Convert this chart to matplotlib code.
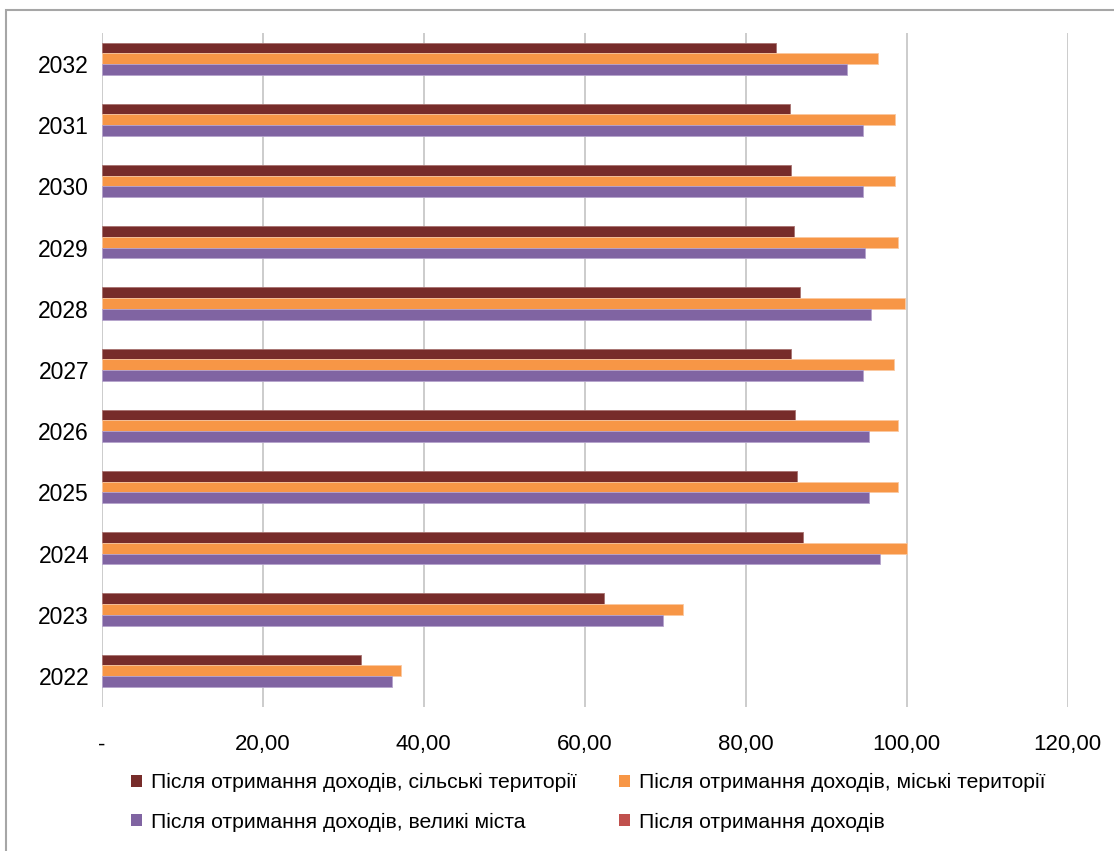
import matplotlib
matplotlib.use("Agg")
import matplotlib.pyplot as plt
from matplotlib.patches import Patch, Rectangle
import numpy as np

plt.rcParams['font.family'] = ['Liberation Sans', 'DejaVu Sans']

years = ["2022", "2023", "2024", "2025", "2026", "2027", "2028", "2029", "2030", "2031", "2032"]
rural = [32.2, 62.4, 87.1, 86.35, 86.2, 85.7, 86.8, 86.0, 85.65, 85.5, 83.8]
urban = [37.2, 72.2, 100.1, 98.9, 99.0, 98.4, 99.8, 98.9, 98.6, 98.6, 96.5]
cities = [36.1, 69.8, 96.7, 95.4, 95.3, 94.55, 95.6, 94.9, 94.55, 94.6, 92.6]
total = [0, 0, 0, 0, 0, 0, 0, 0, 0, 0, 0]

labels = ["Після отримання доходів, сільські території",
          "Після отримання доходів, міські території",
          "Після отримання доходів, великі міста",
          "Після отримання доходів"]
colors = ["#772C2A", "#F79646", "#8064A2", "#C0504D"]
edges = ["#A87270", "#FBC8A0", "#B5A3CC", "#C0504D"]
xticks = [0, 20, 40, 60, 80, 100, 120]
xticklabels = ["-", "20,00", "40,00", "60,00", "80,00", "100,00", "120,00"]

W, H = 1114, 851
fig = plt.figure(figsize=(W / 100, H / 100), dpi=100)
ax = fig.add_axes([101.5 / W, 1 - 706.6 / H, (1067.5 - 101.5) / W, (706.6 - 33.4) / H])

y = np.arange(len(years))
h = 0.175
series = [rural, urban, cities, total]
offsets = [1.5 * h, 0.5 * h, -0.5 * h, -1.5 * h]
for vals, off, c, ec in zip(series, offsets, colors, edges):
    lw = 0.6 if any(v > 0 for v in vals) else 0
    ax.barh(y + off, vals, height=h, color=c, edgecolor=ec, linewidth=lw, zorder=3)

ax.set_xlim(0, 120)
ax.set_ylim(-0.5, len(years) - 0.5)
ax.set_xticks(xticks)
ax.set_xticklabels(xticklabels, fontsize=16)
ax.set_yticks(y)
ax.set_yticklabels(years, fontsize=16.5)
ax.tick_params(axis='both', length=0)
ax.tick_params(axis='x', pad=20)
ax.tick_params(axis='y', pad=9)
ax.grid(axis='x', color='#C8C8C8', linewidth=1.3, zorder=0)
ax.set_axisbelow(True)
for s in ax.spines.values():
    s.set_visible(False)

handles = [Patch(facecolor=c, edgecolor='none') for c in colors]
order = [0, 2, 1, 3]
fig.legend([handles[i] for i in order], [labels[i] for i in order], ncol=2,
           frameon=False, fontsize=15.2,
           loc='upper left', bbox_to_anchor=(131 / W, 1 - 773 / H),
           handlelength=0.5, handleheight=0.5, handletextpad=0.45,
           columnspacing=2.0, labelspacing=0.98, borderaxespad=0, borderpad=0)

fig.patches.append(Rectangle((6 / W, -0.1), 2, (1 - 10 / H) + 0.1,
                             transform=fig.transFigure, fill=False,
                             edgecolor='#A6A6A6', linewidth=1.5))

fig.savefig("out.png", dpi=100)
